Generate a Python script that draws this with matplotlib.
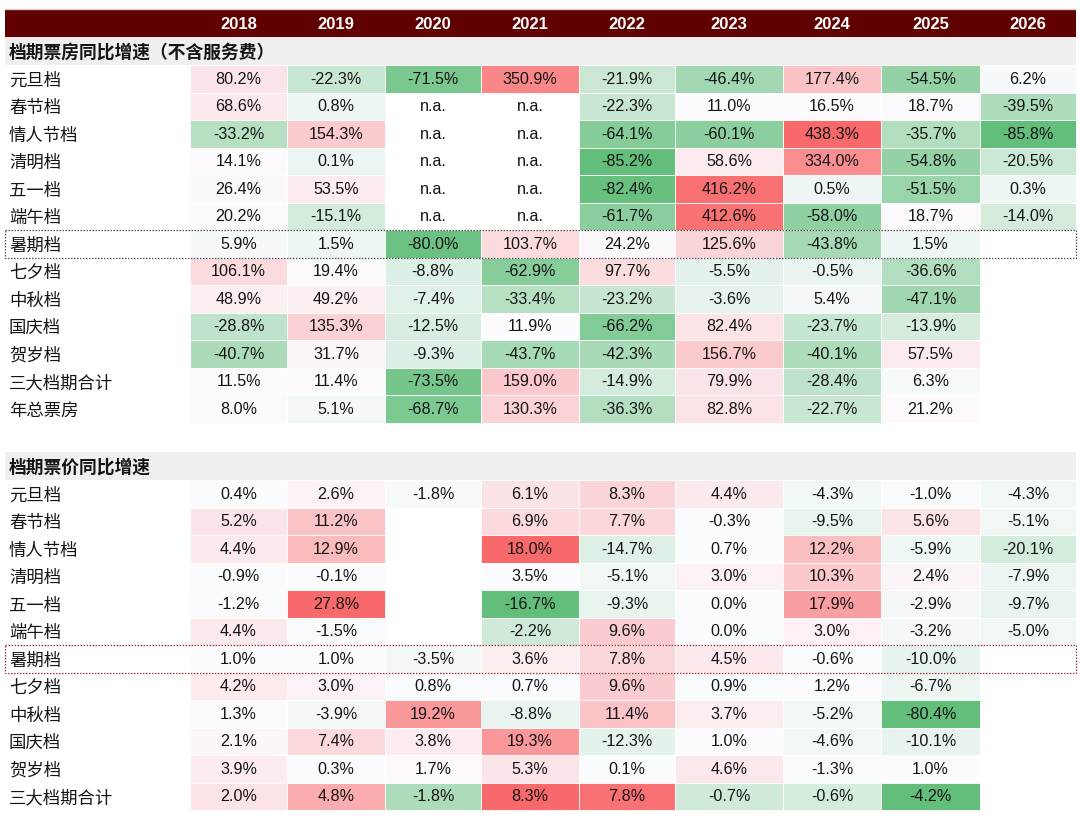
import numpy as np
import matplotlib
matplotlib.use('Agg')
import matplotlib.pyplot as plt
from matplotlib.patches import Rectangle
from matplotlib.colors import LinearSegmentedColormap, TwoSlopeNorm

# ---------------- data ----------------
years = ['2018', '2019', '2020', '2021', '2022', '2023', '2024', '2025', '2026']
section1_title = '档期票房同比增速（不含服务费）'
section2_title = '档期票价同比增速'
rows1 = ['元旦档', '春节档', '情人节档', '清明档', '五一档', '端午档', '暑期档',
         '七夕档', '中秋档', '国庆档', '贺岁档', '三大档期合计', '年总票房']
rows2 = ['元旦档', '春节档', '情人节档', '清明档', '五一档', '端午档', '暑期档',
         '七夕档', '中秋档', '国庆档', '贺岁档', '三大档期合计']
NA = 'n.a.'

# 档期票房同比增速 (%), None = blank
box_office = [
    [80.2, -22.3, -71.5, 350.9, -21.9, -46.4, 177.4, -54.5, 6.2],
    [68.6, 0.8, NA, NA, -22.3, 11.0, 16.5, 18.7, -39.5],
    [-33.2, 154.3, NA, NA, -64.1, -60.1, 438.3, -35.7, -85.8],
    [14.1, 0.1, NA, NA, -85.2, 58.6, 334.0, -54.8, -20.5],
    [26.4, 53.5, NA, NA, -82.4, 416.2, 0.5, -51.5, 0.3],
    [20.2, -15.1, NA, NA, -61.7, 412.6, -58.0, 18.7, -14.0],
    [5.9, 1.5, -80.0, 103.7, 24.2, 125.6, -43.8, 1.5, None],
    [106.1, 19.4, -8.8, -62.9, 97.7, -5.5, -0.5, -36.6, None],
    [48.9, 49.2, -7.4, -33.4, -23.2, -3.6, 5.4, -47.1, None],
    [-28.8, 135.3, -12.5, 11.9, -66.2, 82.4, -23.7, -13.9, None],
    [-40.7, 31.7, -9.3, -43.7, -42.3, 156.7, -40.1, 57.5, None],
    [11.5, 11.4, -73.5, 159.0, -14.9, 79.9, -28.4, 6.3, None],
    [8.0, 5.1, -68.7, 130.3, -36.3, 82.8, -22.7, 21.2, None],
]

# 档期票价同比增速 (%), None = blank
ticket_price = [
    [0.4, 2.6, -1.8, 6.1, 8.3, 4.4, -4.3, -1.0, -4.3],
    [5.2, 11.2, None, 6.9, 7.7, -0.3, -9.5, 5.6, -5.1],
    [4.4, 12.9, None, 18.0, -14.7, 0.7, 12.2, -5.9, -20.1],
    [-0.9, -0.1, None, 3.5, -5.1, 3.0, 10.3, 2.4, -7.9],
    [-1.2, 27.8, None, -16.7, -9.3, 0.0, 17.9, -2.9, -9.7],
    [4.4, -1.5, None, -2.2, 9.6, 0.0, 3.0, -3.2, -5.0],
    [1.0, 1.0, -3.5, 3.6, 7.8, 4.5, -0.6, -10.0, None],
    [4.2, 3.0, 0.8, 0.7, 9.6, 0.9, 1.2, -6.7, None],
    [1.3, -3.9, 19.2, -8.8, 11.4, 3.7, -5.2, -80.4, None],
    [2.1, 7.4, 3.8, 19.3, -12.3, 1.0, -4.6, -10.1, None],
    [3.9, 0.3, 1.7, 5.3, 0.1, 4.6, -1.3, 1.0, None],
    [2.0, 4.8, -1.8, 8.3, 7.8, -0.7, -0.6, -4.2, None],
]

# midpoints of the colour scales (Excel-style 3-colour scale)
mid_box_office = 10.0
mid_price = 1.0
mid_price_total = 0.7
mid_price_2021_block = 3.5

# ---------------- style / layout ----------------
W, H = 1080, 817
LEFT, RIGHT = 5, 1076
COL_EDGES = [190, 287, 385, 481, 579, 675, 783, 881, 980, 1076]
HDR_TOP, HDR_BOT = 10, 37
ROW_H = 27.5
SEC1_TOP = 37
SEC2_TOP = 452

cmap = LinearSegmentedColormap.from_list('gwr', ['#63BE7B', '#FCFCFF', '#F8696B'])
HEADER_RED = '#600000'
GREY = '#EFEFEF'
TXT = '#141414'
NUM_FONT = ['Liberation Sans', 'DejaVu Sans']
CJK_FONT = ['Noto Sans CJK SC', 'DejaVu Sans']


def nums(rows):
    return [v for r in rows for v in r if isinstance(v, (int, float))]


# colour-scale groups
norm_top = TwoSlopeNorm(vmin=min(nums(box_office)), vcenter=mid_box_office,
                        vmax=max(nums(box_office)))
price_main = [r for r in ticket_price[:-1]]
norm_price = TwoSlopeNorm(vmin=min(nums(price_main)), vcenter=mid_price,
                          vmax=max(nums(price_main)))
total_row = ticket_price[-1]
norm_total = TwoSlopeNorm(vmin=min(nums([total_row])), vcenter=mid_price_total,
                          vmax=max(nums([total_row])))
col2021 = years.index('2021')
block2021 = [[r[col2021]] for r in ticket_price[:6]]
norm_2021 = TwoSlopeNorm(vmin=min(nums(block2021)), vcenter=mid_price_2021_block,
                         vmax=max(nums(block2021)))


def price_norm(r, c):
    if r == len(ticket_price) - 1:
        return norm_total
    if c == col2021 and r < 6:
        return norm_2021
    return norm_price


fig = plt.figure(figsize=(W / 100, H / 100), dpi=100)
ax = fig.add_axes([0, 0, 1, 1])
ax.set_xlim(0, W)
ax.set_ylim(H, 0)
ax.axis('off')

# top thin line + header
ax.plot([LEFT, RIGHT], [HDR_TOP - 1, HDR_TOP - 1], color='#D0D0D0', lw=1)
ax.add_patch(Rectangle((LEFT, HDR_TOP), RIGHT - LEFT, HDR_BOT - HDR_TOP,
                       facecolor=HEADER_RED, edgecolor='none'))
for i, y in enumerate(years):
    cx = (COL_EDGES[i] + COL_EDGES[i + 1]) / 2
    ax.text(cx, (HDR_TOP + HDR_BOT) / 2 + 0.5, y, color='white', fontsize=12,
            fontweight='bold', family=NUM_FONT, ha='center', va='center')


def draw_section(top, title, labels, data, norm_fn, box_color):
    ax.add_patch(Rectangle((LEFT, top), RIGHT - LEFT, ROW_H + 0.5,
                           facecolor=GREY, edgecolor='none'))
    ax.text(LEFT + 4, top + ROW_H / 2 + 2, title, fontsize=12.8, fontweight='bold',
            family=CJK_FONT, color=TXT, ha='left', va='center')
    y0 = top + ROW_H + 0.5
    for r, (lab, row) in enumerate(zip(labels, data)):
        yt = y0 + r * ROW_H
        yc = yt + ROW_H / 2
        ax.text(LEFT + 4, yc + 1.8, lab, fontsize=12.5, family=CJK_FONT, color=TXT,
                ha='left', va='center')
        for c, v in enumerate(row):
            x0, x1 = COL_EDGES[c], COL_EDGES[c + 1]
            cx = (x0 + x1) / 2
            if isinstance(v, (int, float)):
                fc = cmap(norm_fn(r, c)(v))
                ax.add_patch(Rectangle((x0, yt), x1 - x0, ROW_H, facecolor=fc,
                                       edgecolor='white', lw=0.6))
                ax.text(cx, yc + 0.5, f'{v:.1f}%', fontsize=11.6, family=NUM_FONT,
                        color=TXT, ha='center', va='center')
            elif v == NA:
                ax.text(cx, yc + 0.5, NA, fontsize=11.6, family=NUM_FONT,
                        color=TXT, ha='center', va='center')
    # dotted box around 暑期档
    r = labels.index('暑期档')
    ax.add_patch(Rectangle((LEFT, y0 + r * ROW_H), RIGHT - LEFT, ROW_H, fill=False,
                           edgecolor=box_color, lw=0.9, linestyle=(0, (1.2, 1.2))))


draw_section(SEC1_TOP, section1_title, rows1, box_office, lambda r, c: norm_top, '#555555')
draw_section(SEC2_TOP, section2_title, rows2, ticket_price, price_norm, '#9A3B3B')

fig.savefig('out.png', dpi=100)
